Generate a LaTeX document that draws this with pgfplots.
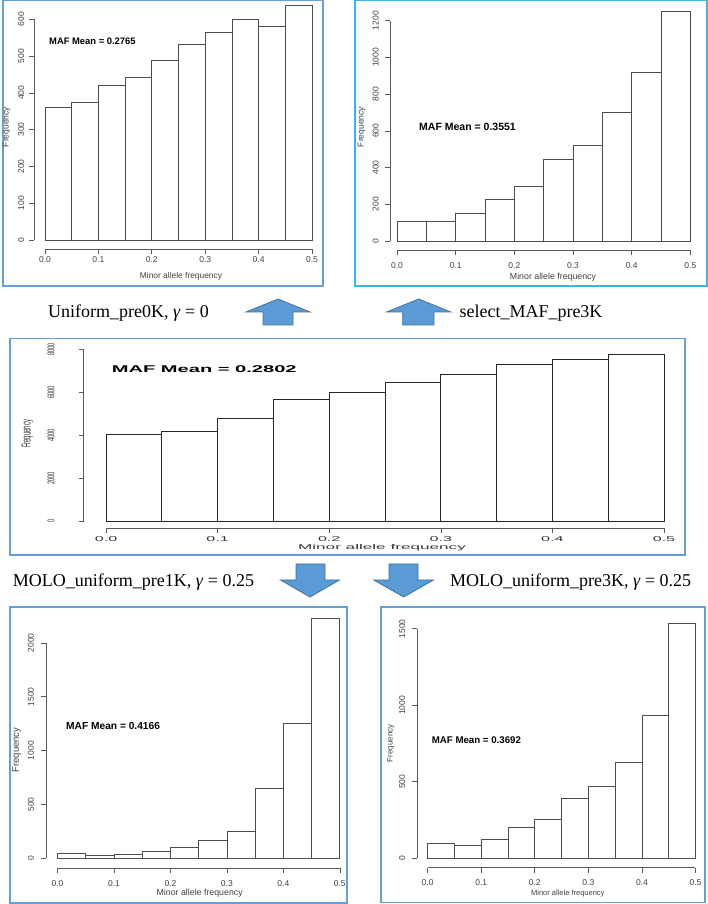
\documentclass[border=0pt]{standalone}
\usepackage{pgfplots}
\pgfplotsset{compat=1.18}
\usepackage{fontspec}
\setmainfont{Liberation Serif}
\newfontfamily\arial{Liberation Sans}
\definecolor{frameblue}{RGB}{100,160,215}
\definecolor{framecyan}{RGB}{60,180,229}
\definecolor{arrowfill}{RGB}{91,155,213}
\definecolor{arrowdraw}{RGB}{65,113,156}
\definecolor{rgray}{RGB}{90,90,90}
\pgfplotsset{
  rhist/.style={
    scale only axis, anchor=south west,
    xmin=-0.02, xmax=0.52,
    axis x line*=bottom, axis y line*=left,
    axis line style={draw=none},
    tick align=outside, major tick length=5pt,
    tick style={rgray, line width=0.6pt},
    xtick={0,0.1,0.2,0.3,0.4,0.5},
    xticklabels={0.0,0.1,0.2,0.3,0.4,0.5},
    ticklabel style={font=\arial\fontsize{8.5}{9}\selectfont, text=black!75},
    xticklabel style={inner sep=7pt},
    yticklabel style={rotate=90, anchor=south, inner xsep=0pt, inner ysep=6pt},
    /pgf/number format/assume math mode=true,
    /pgf/number format/1000 sep={},
    scaled y ticks=false,
    clip=false,
  },
  rbar/.style={ybar interval, fill=white, draw=black!70, line width=0.7pt},
}
\newcommand{\maf}[2]{{\arial\bfseries\fontsize{#1}{#1}\selectfont MAF Mean = #2}}
\begin{document}
\begin{tikzpicture}[x=1pt,y=1pt]
\path[use as bounding box] (0,0) rectangle (708,904);
% frames
\draw[frameblue, line width=1.4pt] (3,618) rectangle (323,903.3);
\draw[framecyan, line width=1.4pt] (355,618) rectangle (707,903.3);
\draw[frameblue, line width=1.4pt] (10,349) rectangle (685,565.5);
\draw[frameblue, line width=1.4pt] (10,1) rectangle (347,297);
\draw[frameblue, line width=1.4pt] (381,1.5) rectangle (705,297);

% Panel 1 (top left)
\begin{axis}[rhist, at={(34.3pt,654.8pt)}, width=288.4pt, height=248.3pt,
  ymin=-25, ymax=650, ytick={0,100,...,600}, xticklabel style={inner sep=2pt},
  yticklabel style={inner ysep=5pt}]
\addplot[rbar] coordinates {(0,360) (0.05,374) (0.1,420) (0.15,442) (0.2,487) (0.25,532) (0.3,565) (0.35,599) (0.4,581) (0.45,639) (0.5,639)};
\draw[rgray, line width=0.6pt] (axis cs:0,-25) -- (axis cs:0.5,-25);
\draw[rgray, line width=0.6pt] (axis cs:-0.02,0) -- (axis cs:-0.02,600);
\end{axis}

% Panel 2 (top right)
\begin{axis}[rhist, at={(390pt,653.8pt)}, width=312.1pt, height=241.4pt,
  xmin=-0.012, ymin=-50, ymax=1265, ytick={0,200,...,1200}]
\addplot[rbar] coordinates {(0,109) (0.05,107) (0.1,151) (0.15,225) (0.2,300) (0.25,443) (0.3,521) (0.35,701) (0.4,919) (0.45,1253) (0.5,1253)};
\draw[rgray, line width=0.6pt] (axis cs:0,-50) -- (axis cs:0.5,-50);
\draw[rgray, line width=0.6pt] (axis cs:-0.012,0) -- (axis cs:-0.012,1200);
\end{axis}

% Panel 3 (middle)
\begin{axis}[rhist, at={(83.7pt,376pt)}, width=602.6pt, height=178.7pt,
  ymin=-311, ymax=8000, ytick={0,2000,...,8000},
  ticklabel style={font=\arial\fontsize{7}{7}\selectfont, text=black!80},
  xticklabel style={inner sep=3.5pt},
  xticklabels={\scalebox{2.3}[1]{0.0},\scalebox{2.3}[1]{0.1},\scalebox{2.3}[1]{0.2},\scalebox{2.3}[1]{0.3},\scalebox{2.3}[1]{0.4},\scalebox{2.3}[1]{0.5}},
  yticklabels={\scalebox{0.83}[1.4]{0},\scalebox{0.83}[1.4]{2000},\scalebox{0.83}[1.4]{4000},\scalebox{0.83}[1.4]{6000},\scalebox{0.83}[1.4]{8000}},
  yticklabel style={inner ysep=24pt}]
\addplot[rbar, draw=black!85] coordinates {(0,4028) (0.05,4186) (0.1,4790) (0.15,5674) (0.2,5981) (0.25,6447) (0.3,6837) (0.35,7302) (0.4,7516) (0.45,7767) (0.5,7767)};
\draw[rgray, line width=0.6pt] (axis cs:0,-311) -- (axis cs:0.5,-311);
\draw[rgray, line width=0.6pt] (axis cs:-0.02,0) -- (axis cs:-0.02,8000);
\end{axis}

% Panel 4 (bottom left)
\begin{axis}[rhist, at={(46.2pt,36.1pt)}, width=304.9pt, height=250.8pt,
  ymin=-89, ymax=2240, ytick={0,500,...,2000}, yticklabel style={inner ysep=7pt}]
\addplot[rbar] coordinates {(0,50) (0.05,25) (0.1,37) (0.15,68) (0.2,102) (0.25,168) (0.3,252) (0.35,646) (0.4,1249) (0.45,2227) (0.5,2227)};
\draw[rgray, line width=0.6pt] (axis cs:0,-89) -- (axis cs:0.5,-89);
\draw[rgray, line width=0.6pt] (axis cs:-0.02,0) -- (axis cs:-0.02,2000);
\end{axis}

% Panel 5 (bottom right)
\begin{axis}[rhist, at={(416.9pt,36.4pt)}, width=289.3pt, height=245.7pt,
  ymin=-61, ymax=1545, ytick={0,500,1000,1500}, yticklabel style={inner ysep=6.5pt}]
\addplot[rbar] coordinates {(0,96) (0.05,87) (0.1,125) (0.15,199) (0.2,252) (0.25,389) (0.3,472) (0.35,630) (0.4,934) (0.45,1533) (0.5,1533)};
\draw[rgray, line width=0.6pt] (axis cs:0,-61) -- (axis cs:0.5,-61);
\draw[rgray, line width=0.6pt] (axis cs:-0.02,0) -- (axis cs:-0.02,1500);
\end{axis}

% MAF mean labels
\node[anchor=west, inner sep=0] at (49,863) {\maf{9.4}{0.2765}};
\node[anchor=west, inner sep=0] at (419,777) {\maf{10.5}{0.3551}};
\node[anchor=west, inner sep=0] at (111.7,535) {\scalebox{2.05}[1]{\maf{9.8}{0.2802}}};
\node[anchor=west, inner sep=0] at (66,178) {\maf{10.2}{0.4166}};
\node[anchor=west, inner sep=0] at (431.6,163.5) {\maf{9.7}{0.3692}};

% Frequency labels
\node[rotate=90, inner sep=0, text=black!75] at (6.7,777) {\arial\fontsize{8.5}{9}\selectfont Frequency};
\node[rotate=90, inner sep=0, text=black!75] at (361.5,777) {\arial\fontsize{8.5}{9}\selectfont Frequency};
\node[rotate=90, inner sep=0, text=black!80] at (27.5,470) {\scalebox{0.74}[1.6]{\arial\fontsize{8}{9}\selectfont Frequency}};
\node[rotate=90, inner sep=0, text=black!75] at (16.7,154) {\arial\fontsize{9.5}{10}\selectfont Frequency};
\node[rotate=90, inner sep=0, text=black!75] at (390.7,160.7) {\arial\fontsize{8}{9}\selectfont Frequency};

% x labels
\node[inner sep=0, text=black!75] at (181,628) {\arial\fontsize{8.4}{9}\selectfont Minor allele frequency};
\node[inner sep=0, text=black!75] at (553,626.3) {\arial\fontsize{8.8}{9}\selectfont Minor allele frequency};
\node[inner sep=0, text=black!80] at (382,356) {\scalebox{2.45}[1]{\arial\fontsize{7}{7}\selectfont Minor allele frequency}};
\node[inner sep=0, text=black!75] at (199.7,10.7) {\arial\fontsize{8.8}{9}\selectfont Minor allele frequency};
\node[inner sep=0, text=black!75] at (567.8,10.7) {\arial\fontsize{7.5}{8}\selectfont Minor allele frequency};

% arrows
\filldraw[fill=arrowfill, draw=arrowdraw, line width=0.8pt] (263,579) -- (263,592) -- (246,592) -- (278,605) -- (310,592) -- (293,592) -- (293,579) -- cycle;
\filldraw[fill=arrowfill, draw=arrowdraw, line width=0.8pt] (402.7,579) -- (402.7,592) -- (386.7,592) -- (418.7,605) -- (450.7,592) -- (434,592) -- (434,579) -- cycle;
\filldraw[fill=arrowfill, draw=arrowdraw, line width=0.8pt] (296,340) -- (325,340) -- (325,324) -- (339.4,324) -- (310,307) -- (280.5,324) -- (296,324) -- cycle;
\filldraw[fill=arrowfill, draw=arrowdraw, line width=0.8pt] (389,340) -- (418,340) -- (418,324) -- (433.5,324) -- (403.7,307) -- (373.8,324) -- (389,324) -- cycle;

% captions
\node[font=\fontsize{18}{20}\selectfont] at (128.5,591) {Uniform\_pre0K, \textit{γ} = 0};
\node[font=\fontsize{18}{20}\selectfont] at (531,591) {select\_MAF\_pre3K};
\node[font=\fontsize{18}{20}\selectfont] at (133.5,322) {MOLO\_uniform\_pre1K, \textit{γ} = 0.25};
\node[font=\fontsize{18}{20}\selectfont] at (570.7,322) {MOLO\_uniform\_pre3K, \textit{γ} = 0.25};
\end{tikzpicture}
\end{document}
